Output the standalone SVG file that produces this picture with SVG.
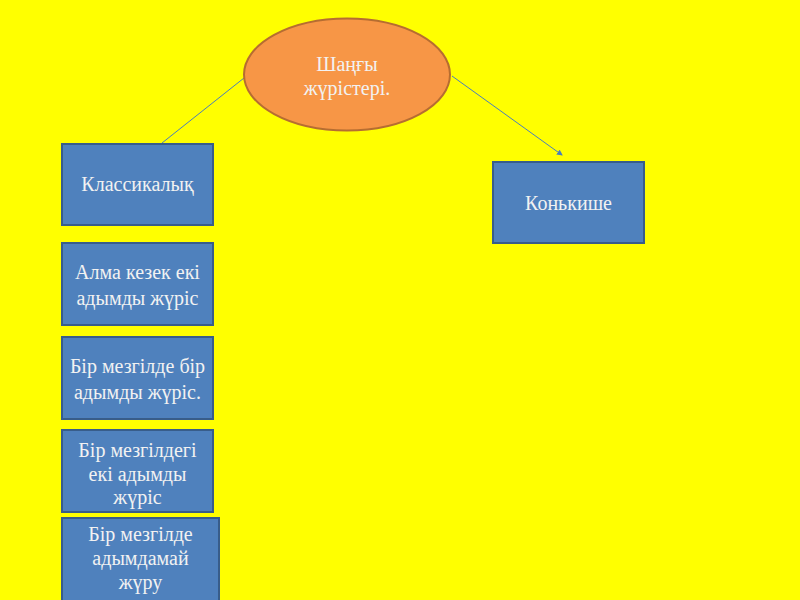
<svg xmlns="http://www.w3.org/2000/svg" width="800" height="600" viewBox="0 0 800 600">
<style>
.box{fill:#4F81BD;stroke:#385D8A;stroke-width:2}
.ell{fill:#F79646;stroke:#B66D31;stroke-width:2}
.t{font-family:"Liberation Serif","DejaVu Serif",serif;font-size:20px;fill:#F2F2F2;text-anchor:middle}
.c{stroke:#4A7EBB;stroke-width:1;fill:none}
</style>
<defs>
<marker id="ah" markerWidth="6" markerHeight="6" refX="5" refY="3" orient="auto" markerUnits="userSpaceOnUse">
<path d="M0,0 L6,3 L0,6 z" fill="#4A7EBB"/>
</marker>
</defs>
<rect width="800" height="600" fill="#FFFF00"/>
<g id="connectors">
<line class="c" x1="244" y1="78" x2="162" y2="143"/>
<line class="c" x1="452" y1="76" x2="562" y2="155" marker-end="url(#ah)"/>
</g>
<g id="root">
<ellipse class="ell" cx="347" cy="74.5" rx="103" ry="56"/>
<text class="t" x="347" y="71">Шаңғы</text>
<text class="t" x="347" y="95">жүрістері.</text>
</g>
<g id="classic">
<rect class="box" x="62" y="144" width="151" height="81"/>
<text class="t" x="137.5" y="191">Классикалық</text>
</g>
<g id="skate">
<rect class="box" x="493" y="162" width="151" height="81"/>
<text class="t" x="568.5" y="210">Конькише</text>
</g>
<g id="alma">
<rect class="box" x="62" y="243" width="151" height="82"/>
<text class="t" x="137.5" y="279">Алма кезек екі</text>
<text class="t" x="137.5" y="305">адымды жүріс</text>
</g>
<g id="bir1">
<rect class="box" x="62" y="337" width="151" height="82"/>
<text class="t" x="137.5" y="373">Бір мезгілде бір</text>
<text class="t" x="137.5" y="399">адымды жүріс.</text>
</g>
<g id="bir2">
<rect class="box" x="62" y="430" width="151" height="82"/>
<text class="t" x="137.5" y="457">Бір мезгілдегі</text>
<text class="t" x="137.5" y="481">екі адымды</text>
<text class="t" x="137.5" y="504">жүріс</text>
</g>
<g id="bir3">
<rect class="box" x="62" y="518" width="157" height="84"/>
<text class="t" x="140.5" y="541">Бір мезгілде</text>
<text class="t" x="140.5" y="565">адымдамай</text>
<text class="t" x="140.5" y="589">жүру</text>
</g>
</svg>
